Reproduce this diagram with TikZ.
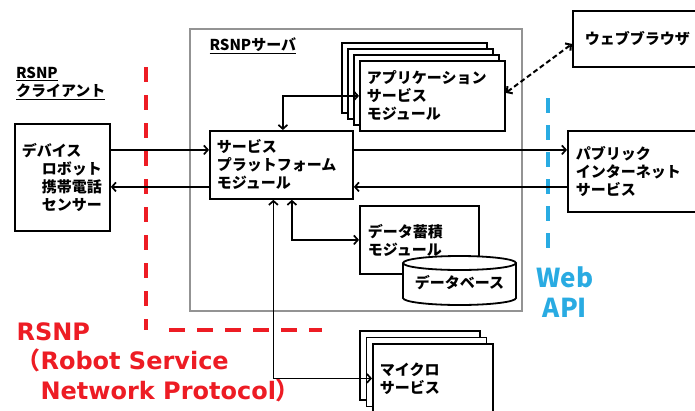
\documentclass[tikz,border=0pt]{standalone}
\usepackage{fontspec}
\setmainfont{Noto Sans CJK JP}
\newfontfamily\latinfont{DejaVu Sans}
\usetikzlibrary{arrows,arrows.meta,positioning}
\definecolor{rsnpred}{RGB}{237,28,36}
\definecolor{apiblue}{RGB}{41,171,226}
\newcommand\jpfont{\fontsize{15}{18}\selectfont\bfseries}
\newcommand\bigfont{\fontsize{24}{29.5}\selectfont\bfseries}

\begin{document}
\begin{tikzpicture}[x=1pt,y=-1pt,>={Straight Barb[length=4pt,width=9pt]},
    mbox/.style={draw,line width=1.8pt,fill=white,anchor=north west,inner xsep=7pt,align=left,font=\jpfont},
    link/.style={line width=1.7pt}]
  \path[use as bounding box,clip] (0,0) rectangle (695,410);
  \draw[gray!85,line width=1.6pt] (190,29) rectangle (522,311);
  \draw[rsnpred,line width=3.5pt,dash pattern=on 15pt off 13pt] (146,67) -- (146,330);
  \draw[rsnpred,line width=3.5pt,dash pattern=on 16pt off 12pt] (169,330) -- (322,330);
  \draw[apiblue,line width=3.5pt,dash pattern=on 15pt off 12pt] (548,98) -- (548,252);

  \node[font=\jpfont,anchor=west] (srv) at (206,46) {\underline{RSNPサーバ}};
  \node[font=\jpfont,anchor=west,align=left] (cli) at (12.5,83.5) {\underline{RSNP}\\\underline{クライアント}};
  \node[font=\bigfont,text=rsnpred,anchor=west,align=left] (rsnp) at (13,362)
    {{\latinfont RSNP}\\（{\latinfont Robot Service}\\　{\latinfont Network Protocol}）};
  \node[font=\fontsize{26}{30}\selectfont\bfseries,text=apiblue,align=center] (api) at (565,292) {Web\\API};

  \node[mbox,minimum height=107pt,text width=81pt] (dev) at (14,123)
    {デバイス\\\hspace*{20pt}ロボット\\\hspace*{20pt}携帯電話\\\hspace*{20pt}センサー};
  \node[mbox,minimum height=68pt,text width=129pt] (sp) at (209,130) {サービス\\プラットフォーム\\モジュール};
  \foreach \i in {3,2,1}
    \node[mbox,minimum height=70pt,text width=131pt] (app\i) at ({359-6*\i},{60-6*\i}) {};
  \node[mbox,minimum height=70pt,text width=131pt] (app) at (359,60) {アプリケーション\\サービス\\モジュール};
  \node[mbox,minimum height=68pt,text width=103pt,inner xsep=8pt] (data) at (359,205) {データ蓄積\\モジュール};
  \foreach \i in {2,1}
    \node[mbox,minimum height=69pt,text width=106pt] (micro\i) at ({372-6.5*\i},{343-6.5*\i}) {};
  \node[mbox,minimum height=69pt,text width=106pt] (micro) at (372,343) {マイクロ\\サービス};
  \node[mbox,minimum height=56pt,text width=130pt,inner xsep=12pt] (brw) at (572,10) {ウェブブラウザ};
  \node[mbox,minimum height=81pt,text width=130pt,inner xsep=8pt] (pub) at (567,130) {パブリック\\インターネット\\サービス};

  % database
  \draw[line width=1.8pt,fill=white] (459.5,298) ellipse [x radius=56.5pt,y radius=7pt];
  \fill[white] (403,263) rectangle (516,298);
  \draw[line width=1.8pt] (403,263) -- (403,298) (516,263) -- (516,298);
  \draw[line width=1.8pt,fill=white] (459.5,263) ellipse [x radius=56.5pt,y radius=7pt];
  \node[font=\jpfont] (db) at (459.5,283) {データベース};

  \coordinate (up) at ([yshift=15pt]sp.west);
  \coordinate (dn) at ([yshift=-22pt]sp.west);
  \coordinate (up2) at ([yshift=15pt]sp.east);
  \coordinate (dn2) at ([yshift=-22pt]sp.east);
  \draw[link,->] (up -| dev.east) -- (up);
  \draw[link,->] (dn) -- (dn -| dev.east);
  \draw[link,->] (up2) -- (up2 -| pub.west);
  \draw[link,->] (dn2 -| pub.west) -- (dn2);
  \draw[link,<->] ([xshift=1.5pt]sp.north) |- (app.west);
  \draw[link,<->] ([xshift=10.5pt]sp.south) |- (data.west);
  \draw[link,<->] ([xshift=-8pt]sp.south) |- (micro.west);
  \draw[link,<->,line width=2pt,dash pattern=on 5pt off 3pt] ([yshift=3pt]app.east) -- ([yshift=-5pt]brw.west);
\end{tikzpicture}
\end{document}
